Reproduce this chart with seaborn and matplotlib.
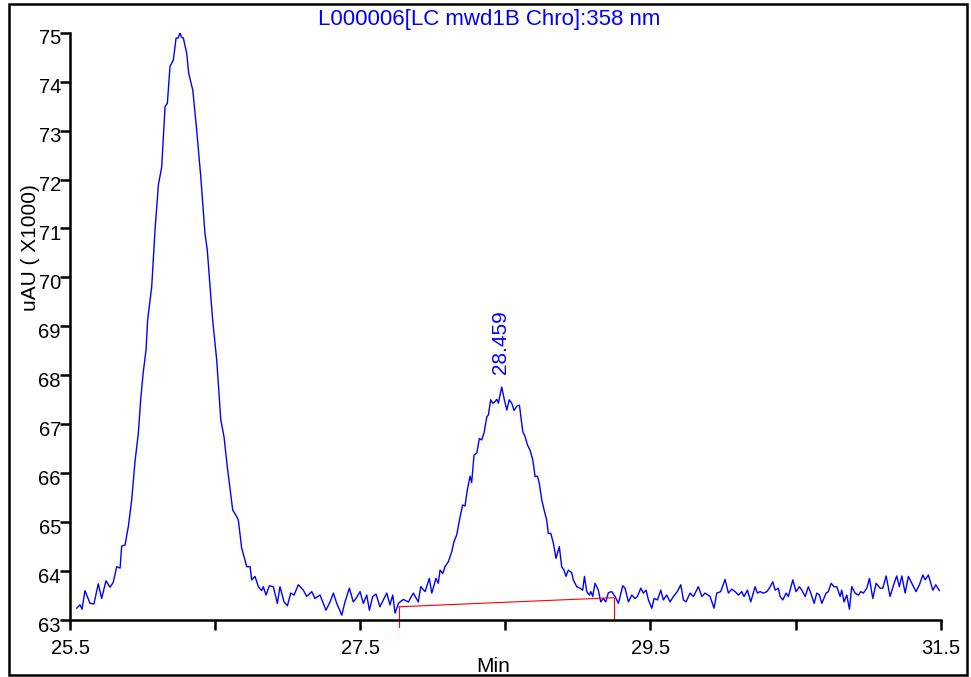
import matplotlib
matplotlib.use("Agg")
import matplotlib.pyplot as plt
import matplotlib.transforms as mtransforms
from matplotlib.patches import Rectangle
import numpy as np
import pandas as pd
import seaborn as sns

# ---------------- data ----------------
time_min = [
    25.546, 25.569, 25.583, 25.603, 25.638, 25.665, 25.695, 25.718, 25.748, 25.776,
    25.798, 25.822, 25.845, 25.856, 25.879, 25.902, 25.925, 25.948, 25.971, 25.987,
    26.005, 26.024, 26.035, 26.063, 26.086, 26.109, 26.132, 26.155, 26.171, 26.189,
    26.212, 26.231, 26.245, 26.258, 26.268, 26.281, 26.304, 26.318, 26.346, 26.373,
    26.401, 26.430, 26.446, 26.465, 26.483, 26.511, 26.539, 26.561, 26.584, 26.621,
    26.649, 26.660, 26.683, 26.718, 26.741, 26.752, 26.775, 26.798, 26.821, 26.832,
    26.851, 26.874,
    26.901, 26.929, 26.947, 26.975, 26.998, 27.021, 27.044, 27.073, 27.108, 27.131,
    27.166, 27.188, 27.223, 27.264, 27.292, 27.315, 27.338, 27.373, 27.395, 27.425,
    27.452, 27.471, 27.499, 27.521, 27.545, 27.563, 27.586, 27.609, 27.636, 27.659,
    27.683, 27.705, 27.724, 27.740, 27.763, 27.797, 27.832, 27.866, 27.900, 27.917,
    27.947, 27.976, 27.993,
    28.022, 28.038, 28.050, 28.069, 28.084, 28.107, 28.131, 28.146, 28.165, 28.188,
    28.206, 28.222, 28.238, 28.257, 28.268, 28.284, 28.303, 28.321, 28.337, 28.353,
    28.372, 28.383, 28.399, 28.413, 28.429, 28.441, 28.452, 28.475, 28.491, 28.510,
    28.527, 28.544, 28.560, 28.579, 28.597, 28.620, 28.636, 28.652, 28.670, 28.689,
    28.705, 28.721, 28.734, 28.751, 28.767, 28.785, 28.796, 28.813, 28.831, 28.849,
    28.872, 28.888, 28.904, 28.918, 28.934, 28.957, 28.968, 28.992, 29.015, 29.033,
    29.045, 29.061, 29.079, 29.089, 29.102, 29.118, 29.141, 29.157, 29.175, 29.192,
    29.210, 29.233, 29.256, 29.279,
    29.309, 29.325, 29.348, 29.371, 29.394, 29.410, 29.433, 29.451, 29.470, 29.486,
    29.509, 29.525, 29.548, 29.571, 29.589, 29.612, 29.635, 29.658, 29.685, 29.709,
    29.727, 29.745, 29.773, 29.796, 29.830, 29.854, 29.876, 29.911, 29.938, 29.957,
    29.984, 30.014, 30.037, 30.060, 30.083, 30.106, 30.129, 30.145, 30.168, 30.191,
    30.221, 30.237, 30.255, 30.278, 30.302, 30.319, 30.343,
    30.359, 30.381, 30.393, 30.412, 30.435, 30.450, 30.481, 30.503, 30.526, 30.543,
    30.566, 30.588, 30.605, 30.628, 30.646, 30.664, 30.681, 30.710, 30.726, 30.745,
    30.765, 30.784, 30.807, 30.818, 30.834, 30.853, 30.871, 30.887, 30.910, 30.933,
    30.949, 30.967, 30.991, 31.009, 31.032, 31.055, 31.082, 31.101, 31.124, 31.151,
    31.179, 31.197, 31.215, 31.232, 31.255, 31.277, 31.301, 31.330, 31.353, 31.377,
    31.393, 31.415, 31.446, 31.466, 31.491,
]

signal_x1000 = [
    63.24, 63.31, 63.22, 63.60, 63.34, 63.33, 63.74, 63.44, 63.80, 63.67,
    63.77, 64.09, 64.06, 64.51, 64.53, 64.91, 65.45, 66.24, 66.82, 67.50,
    68.07, 68.52, 69.13, 69.81, 70.97, 71.89, 72.26, 73.49, 73.56, 74.31,
    74.44, 74.89, 74.89, 75.00, 74.91, 74.89, 74.58, 74.17, 73.83, 73.01,
    72.06, 70.90, 70.56, 69.81, 69.13, 68.31, 67.09, 66.75, 66.13, 65.25,
    65.11, 65.04, 64.47, 64.09, 64.09, 63.82, 63.89, 63.68, 63.60, 63.68,
    63.51, 63.70,
    63.68, 63.34, 63.68, 63.37, 63.29, 63.55, 63.51, 63.72, 63.61, 63.48,
    63.58, 63.44, 63.51, 63.20, 63.37, 63.55, 63.34, 63.10, 63.37, 63.65,
    63.37, 63.44, 63.58, 63.34, 63.51, 63.20, 63.48, 63.53, 63.27, 63.41,
    63.55, 63.31, 63.51, 63.14, 63.34, 63.42, 63.37, 63.55, 63.37, 63.68,
    63.58, 63.85, 63.55,
    63.85, 63.75, 64.02, 63.95, 64.09, 64.19, 64.40, 64.60, 64.74, 65.11,
    65.35, 65.33, 65.66, 65.94, 65.81, 66.37, 66.41, 66.71, 66.68, 66.82,
    67.15, 67.19, 67.50, 67.43, 67.46, 67.51, 67.43, 67.76, 67.53, 67.29,
    67.50, 67.43, 67.28, 67.37, 67.39, 66.85, 66.75, 66.58, 66.47, 66.27,
    65.93, 65.94, 65.79, 65.45, 65.25, 65.04, 64.77, 64.77, 64.57, 64.26,
    64.50, 64.09, 64.02, 63.89, 64.02, 63.97, 63.82, 63.68, 63.65, 63.61,
    63.89, 63.58, 63.51, 63.58, 63.48, 63.75, 63.61, 63.37, 63.44, 63.37,
    63.56, 63.58, 63.48, 63.34,
    63.70, 63.65, 63.37, 63.51, 63.44, 63.48, 63.65, 63.55, 63.61, 63.41,
    63.24, 63.44, 63.41, 63.61, 63.41, 63.51, 63.37, 63.48, 63.58, 63.72,
    63.41, 63.37, 63.55, 63.48, 63.68, 63.48, 63.55, 63.48, 63.24, 63.55,
    63.58, 63.83, 63.55, 63.63, 63.58, 63.51, 63.58, 63.48, 63.61, 63.37,
    63.68, 63.55, 63.58, 63.55, 63.58, 63.65, 63.78,
    63.61, 63.65, 63.48, 63.41, 63.55, 63.48, 63.82, 63.58, 63.68, 63.61,
    63.48, 63.68, 63.55, 63.34, 63.55, 63.51, 63.34, 63.55, 63.58, 63.75,
    63.68, 63.68, 63.48, 63.61, 63.37, 63.51, 63.22, 63.68, 63.55, 63.51,
    63.58, 63.55, 63.65, 63.85, 63.44, 63.75, 63.65, 63.65, 63.90, 63.48,
    63.75, 63.90, 63.68, 63.90, 63.55, 63.89, 63.75, 63.58, 63.72, 63.92,
    63.82, 63.92, 63.61, 63.72, 63.60,
]

# integration baseline (red) and its start / end drop marks
baseline_x = [27.764, 29.247]
baseline_y = [63.27, 63.456]
drop_x = [27.764, 29.247]
drop_top = [63.27, 63.456]
drop_bottom = [62.85, 63.02]

peak_rt_label = "28.459"
peak_label_x = 28.467
peak_label_y = 68.03

x_ticks = [25.5, 26.5, 27.5, 28.5, 29.5, 30.5, 31.5]
x_tick_labels = ["25.5", "", "27.5", "", "29.5", "", "31.5"]
y_ticks = [63, 64, 65, 66, 67, 68, 69, 70, 71, 72, 73, 74, 75]
y_tick_labels = [str(v) for v in y_ticks]

title_text = "L000006[LC mwd1B Chro]:358 nm"
y_label = "uAU ( X1000)"
x_label = "Min"

# ---------------- plotting ----------------
sns.set_style("ticks")
plt.rcParams["font.family"] = ["Liberation Sans", "DejaVu Sans"]

W, H = 971, 677
fig = plt.figure(figsize=(W / 100, H / 100), dpi=100)
fig.patch.set_facecolor("white")
ax = fig.add_axes([70 / W, 1 - 620 / H, (940.7 - 70) / W, (620 - 32.7) / H])
ax.set_facecolor("white")

df = pd.DataFrame({"Min": time_min, "uAU": signal_x1000})
sns.lineplot(data=df, x="Min", y="uAU", color="#0000ff", linewidth=1.0,
             estimator=None, sort=False, ax=ax)
sns.lineplot(x=baseline_x, y=baseline_y, color="#ff0000", linewidth=0.8,
             estimator=None, sort=False, ax=ax)
for dx, t, b in zip(drop_x, drop_top, drop_bottom):
    ax.plot([dx, dx], [t, b], color="#ff0000", linewidth=0.8, clip_on=False)

ax.set_xlim(25.5, 31.5)
ax.set_ylim(63, 75)
ax.set_xticks(x_ticks)
ax.set_xticklabels(x_tick_labels)
ax.set_yticks(y_ticks)
ax.set_yticklabels(y_tick_labels)
ax.set_xlabel("")
ax.set_ylabel("")

for s in ["top", "right"]:
    ax.spines[s].set_visible(False)
for s in ["left", "bottom"]:
    ax.spines[s].set_linewidth(1.8)
    ax.spines[s].set_color("black")

ax.tick_params(axis="both", length=7.5, width=1.8, labelsize=14.5,
               colors="black", direction="out")
ax.tick_params(axis="y", pad=-1)
ax.tick_params(axis="x", pad=6.5)

offset = mtransforms.ScaledTranslation(0, -4 / 100, fig.dpi_scale_trans)
for lab in ax.get_yticklabels():
    lab.set_transform(lab.get_transform() + offset)

ax.text(peak_label_x, peak_label_y, peak_rt_label, rotation=90, color="#0000ff",
        ha="center", va="bottom", fontsize=15)

fig.text(489.5 / W, 1 - 20 / H, title_text, color="#0000ff", fontsize=16,
         ha="center", va="center")
fig.text(30 / W, 1 - 248 / H, y_label, rotation=90, fontsize=15,
         ha="center", va="center", color="black")
fig.text(493 / W, 1 - 676 / H, x_label, fontsize=15, ha="center", va="bottom",
         color="black")

fig.patches.append(Rectangle((9 / W, 2 / H), (967 - 9) / W, (673 - 2) / H,
                             transform=fig.transFigure, fill=False,
                             edgecolor="black", linewidth=1.8, zorder=10))

fig.savefig("out.png", dpi=100, facecolor="white")
